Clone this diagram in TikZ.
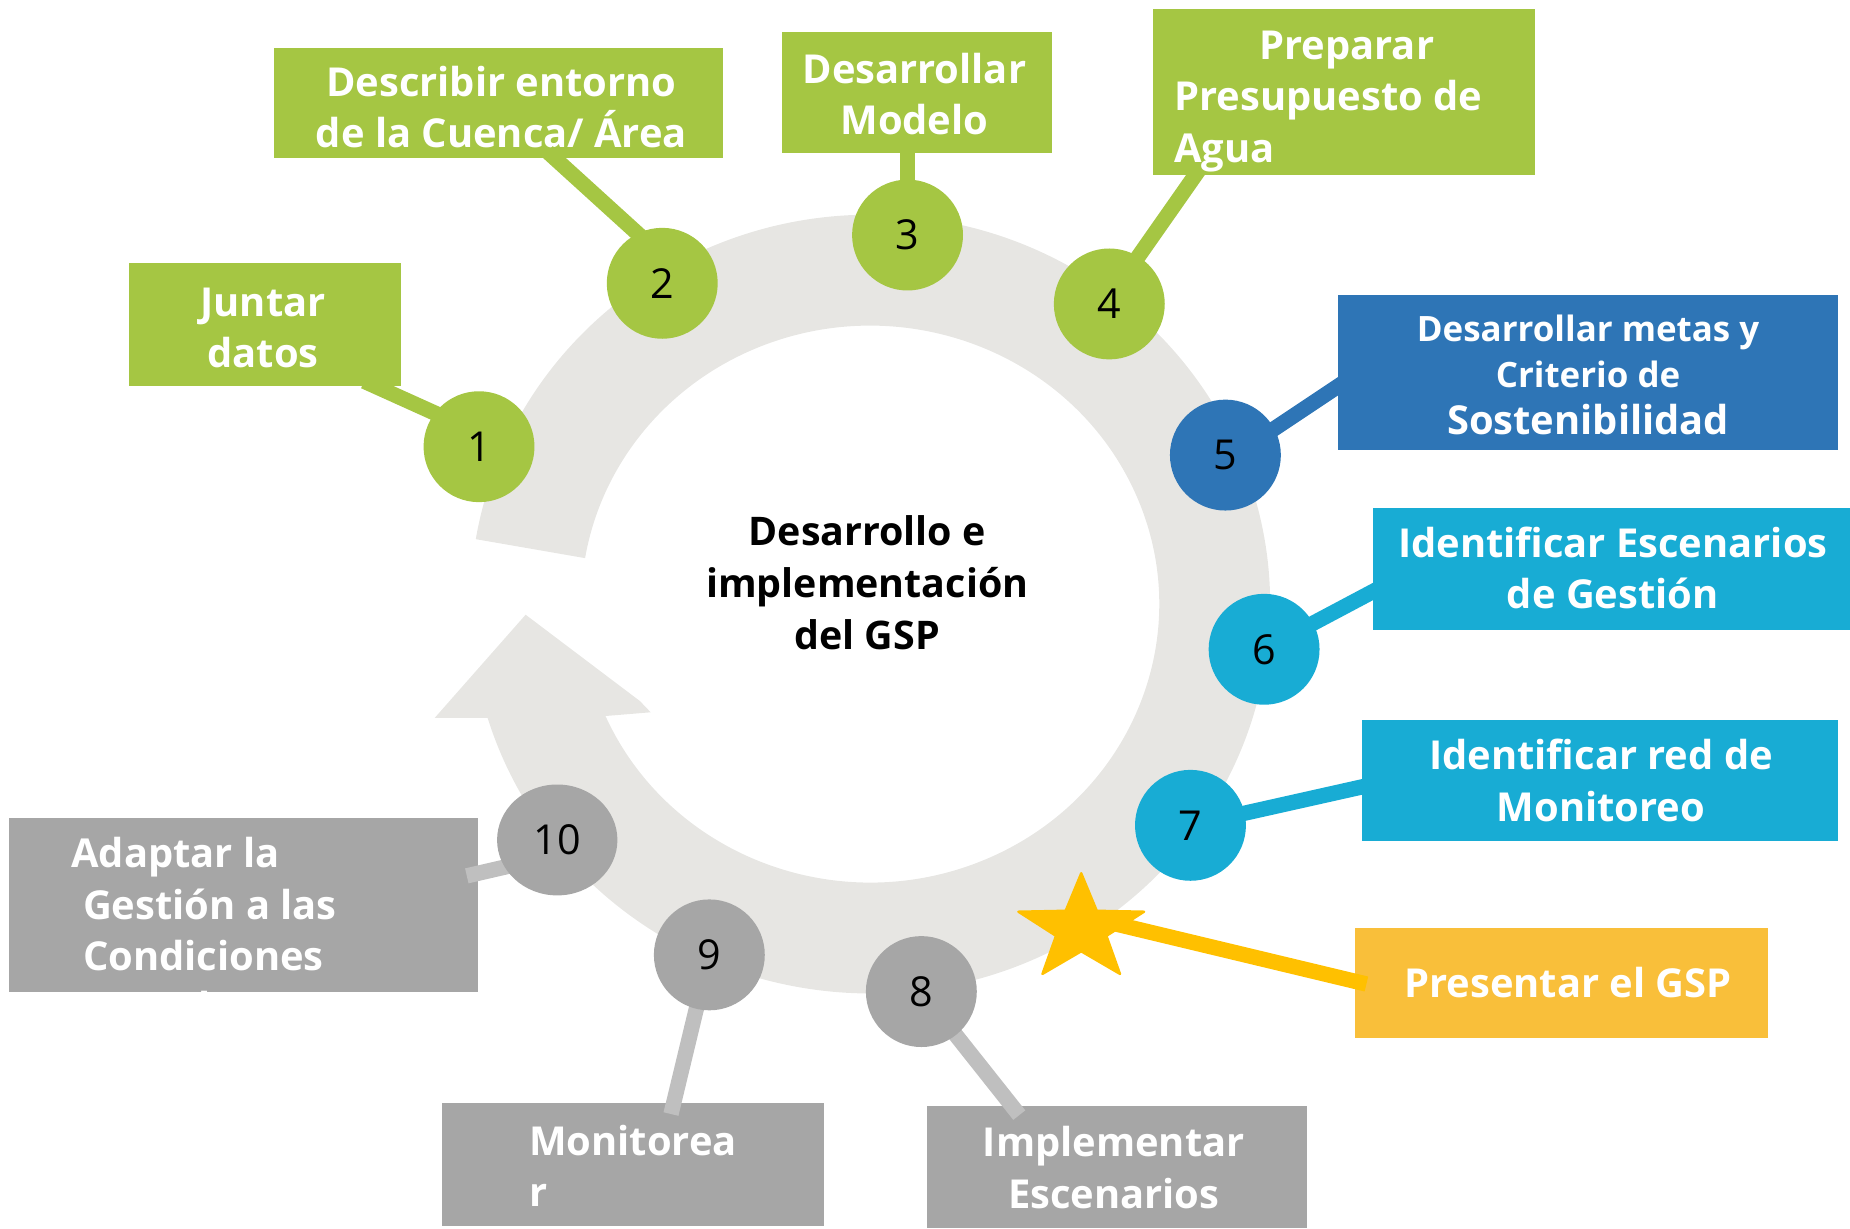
\documentclass[tikz,border=0pt]{standalone}
\usepackage{fontspec}
\setmainfont{Open Sans}
\usetikzlibrary{shapes.geometric}
\definecolor{gsgreen}{RGB}{165,198,67}
\definecolor{gsblue}{RGB}{46,117,182}
\definecolor{gscyan}{RGB}{24,172,212}
\definecolor{gsgray}{RGB}{166,166,166}
\definecolor{gsline}{RGB}{191,191,191}
\definecolor{gsorange}{RGB}{249,191,58}
\definecolor{gsstar}{RGB}{255,192,0}
\definecolor{gsring}{RGB}{231,230,227}
\begin{document}
\begin{tikzpicture}[x=0.5pt,y=-0.5pt,
  boxtxt/.style={font=\fontsize{16.9}{21.75}\selectfont\bfseries, text=white, align=center, inner sep=0pt},
  box/.style={rectangle, inner sep=0pt},
  num/.style={circle, inner sep=0pt, minimum size=47pt, font=\fontsize{17.5}{20}\selectfont, text=black},
  conn/.style={line width=6.5pt},
  midtxt/.style={font=\fontsize{16.7}{22}\selectfont\bfseries, text=black, align=center, inner sep=0pt}]
\useasboundingbox (0,0) rectangle (1568,1041);
% ring with arrow
\fill[gsring] (403.25,456.96) arc[start angle=-170.4, end angle=163, x radius=339, y radius=330]
  -- (368.4,608.5) -- (445.5,521) -- (542.4,594.2) -- (551.5,603.7) -- (513.2,606.85)
  arc[start angle=156.3, end angle=-170.5, x radius=245, y radius=236] -- cycle;
% boxes
\node[box, fill=gsgreen, minimum width=115.15pt, minimum height=52pt] (b1) at (224.75,275.2) {};
\node[box, fill=gsgreen, minimum width=190.5pt, minimum height=46.5pt] (b2) at (422.5,87.5) {};
\node[box, fill=gsgreen, minimum width=114.5pt, minimum height=51.5pt] (b3) at (777.5,78.5) {};
\node[box, fill=gsgreen, minimum width=161.7pt, minimum height=70.2pt] (b4) at (1139.1,77.8) {};
\node[box, fill=gsblue, minimum width=211.55pt, minimum height=65.7pt] (b5) at (1346,315.7) {};
\node[box, fill=gscyan, minimum width=202.2pt, minimum height=51.6pt] (b6) at (1365.8,482.4) {};
\node[box, fill=gscyan, minimum width=202pt, minimum height=51.5pt] (b7) at (1356,661.5) {};
\node[box, fill=gsorange, minimum width=175.25pt, minimum height=46.35pt] (bS) at (1323.55,833.05) {};
\node[box, fill=gsgray, minimum width=161.2pt, minimum height=51.85pt] (b8) at (946.8,989.15) {};
\node[box, fill=gsgray, minimum width=161.75pt, minimum height=52.1pt] (b9) at (536.25,986.6) {};
\node[box, fill=gsgray, minimum width=199pt, minimum height=74pt] (b10) at (206.4,767) {};
% box texts
\node[boxtxt] (t1) at (223,278) {Juntar\\datos};
\node[boxtxt] (t2) at (425,91) {Describir entorno\\de la Cuenca/ Área};
\node[boxtxt] (t3) at (775,79.5) {Desarrollar\\Modelo};
\node[boxtxt, anchor=west, align=left] (t4) at (995,86) {\hspace*{36pt}Preparar\\Presupuesto de\\Agua};
\node[boxtxt, font=\fontsize{14.8}{19.75}\selectfont\bfseries] (t5) at (1346,317.5) {Desarrollar metas y\\Criterio de\\{\fontsize{16.9}{19.75}\selectfont Sostenibilidad}};
\node[boxtxt] (t6) at (1367,481.5) {Identificar Escenarios\\de Gestión};
\node[boxtxt] (t7) at (1357,661.5) {Identificar red de\\Monitoreo};
\node[boxtxt] (tS) at (1329,833) {Presentar el GSP};
\node[boxtxt] (t8) at (944,989.5) {Implementar\\Escenarios};
\node[boxtxt, anchor=west, align=left] (t9) at (448,988) {Monitorea\\r};
\begin{scope}
\clip (b10.south west) rectangle (b10.north east);
\node[boxtxt, anchor=west, align=left] (t10) at (60,788) {Adaptar la\\\hspace*{5pt}Gestión a las\\\hspace*{5pt}Condiciones\\\hspace*{5pt}Actuales};
\end{scope}
% star centre
\coordinate (st) at (916.4,787.3);
% connectors
\draw[conn, gsgreen] ([shift={(83.95,47.9)}]b1.center) -- ([shift={(-15.3,-18.5)}]406,378.6) coordinate (e1);
\draw[conn, gsgreen] ([shift={(41.6,41.1)}]b2.center) -- ([shift={(2.3,-21.1)}]561.3,240.1) coordinate (e2);
\draw[conn, gsgreen] ([shift={(-8.5,46.5)}]b3.center) -- ([shift={(-0.2,-19.2)}]769.2,199.2) coordinate (e3);
\draw[conn, gsgreen] ([shift={(-123.1,66.5)}]b4.center) -- ([shift={(12.7,-23.2)}]940.2,257.6) coordinate (e4);
\draw[conn, gsblue] ([shift={(-203.3,5.9)}]b5.center) -- ([shift={(29.2,-14.2)}]1038.6,385.7) coordinate (e5);
\draw[conn, gscyan] ([shift={(-193.4,14.3)}]b6.center) -- (1071.4,550.3) coordinate (e6);
\draw[conn, gscyan] ([shift={(-193,3.5)}]b7.center) -- (1009,699.5) coordinate (e7);
\draw[conn, gsstar] ([shift={(-165.45,0.95)}]bS.center) -- ([shift={(8.4,-9.2)}]st);
\draw[conn, gsline] (780.9,840.4) coordinate (s8) -- ([shift={(-82.9,-44.05)}]b8.center);
\draw[conn, gsline] (601.2,809.3) coordinate (s9) -- ([shift={(32.45,-42.4)}]b9.center);
\draw[conn, gsline] ([shift={(189.25,-24.66)}]b10.center) -- ([shift={(-22.3,17.9)}]472.3,711.9) coordinate (e10);
% circles
\node[num, fill=gsgreen] (k1) at (406,378.6) {1};
\node[num, fill=gsgreen] (k2) at (561.3,240.1) {2};
\node[num, fill=gsgreen] (k3) at (769.2,199.2) {3};
\node[num, fill=gsgreen] (k4) at (940.2,257.6) {4};
\node[num, fill=gsblue] (k5) at (1038.6,385.7) {5};
\node[num, fill=gscyan] (k6) at (1071.4,550.3) {6};
\node[num, fill=gscyan] (k7) at (1009,699.5) {7};
\node[num, fill=gsgray] (k8) at (780.9,840.4) {8};
\node[num, fill=gsgray] (k9) at (601.2,809.3) {9};
\node[num, ellipse, fill=gsgray, minimum width=51pt, minimum height=47pt] (k10) at (472.3,711.9) {10};
% star
\fill[gsstar, draw=gsstar, line width=1pt, line join=round]
  (916.4,740.1) -- (929.6,771.9) -- (969.7,772.7) -- (937.8,793.2) -- (949.3,825.5)
  -- (916.4,806.3) -- (883.5,825.5) -- (895.0,793.2) -- (863.1,772.7) -- (903.2,771.9) -- cycle;
% centre text
\node[midtxt] (mid) at (735,494) {Desarrollo e\\implementación\\del GSP};
\end{tikzpicture}
\end{document}
